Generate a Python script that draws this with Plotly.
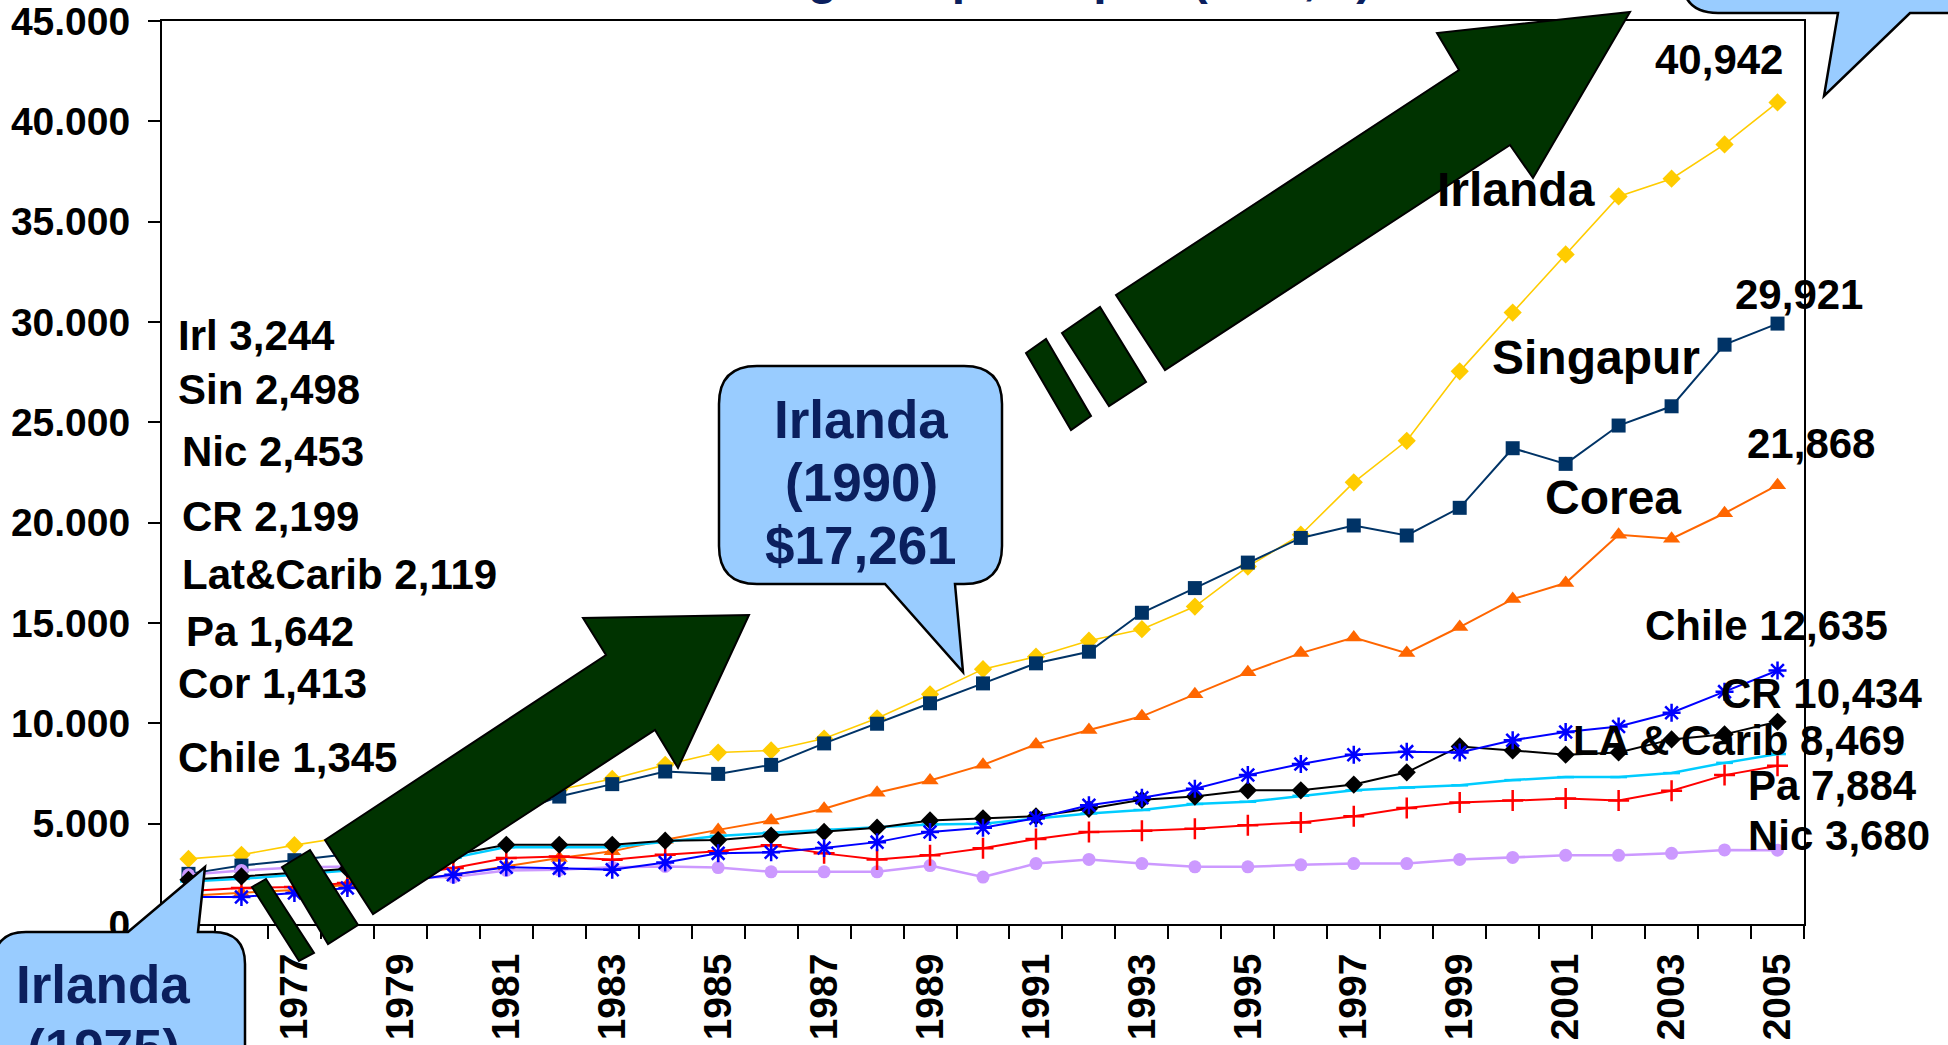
import plotly.graph_objects as go

# ---------------- data ----------------
years = list(range(1975, 2006))

irlanda = [3244, 3450, 3930, 4350, 4850, 5500, 6150, 6700, 7230, 7930,
           8545, 8650, 9240, 10250, 11450, 12700, 13320, 14120, 14690, 15820,
           17810, 19400, 22010, 24080, 27540, 30470, 33370, 36260, 37140, 38850, 40942]
singapur = [2498, 2910, 3180, 3480, 3950, 4700, 5400, 6350, 6970, 7600,
            7480, 7930, 9000, 9980, 11000, 11990, 12990, 13570, 15510, 16740,
            18010, 19240, 19860, 19360, 20740, 23710, 22930, 24840, 25800, 28870, 29921]
corea = [1413, 1540, 1700, 1950, 2150, 2460, 2870, 3290, 3620, 4200,
         4690, 5160, 5740, 6540, 7150, 7930, 8950, 9670, 10350, 11450,
         12540, 13500, 14280, 13500, 14800, 16190, 16990, 19400, 19200, 20470, 21868]
chile = [1345, 1350, 1540, 1790, 2100, 2460, 2830, 2780, 2700, 3070,
         3520, 3570, 3790, 4080, 4590, 4800, 5270, 5920, 6290, 6740,
         7420, 7970, 8440, 8590, 8550, 9160, 9570, 9840, 10530, 11580, 12635]
costa_rica = [2199, 2370, 2550, 2750, 3050, 3450, 3950, 3950, 3950, 4150,
              4180, 4410, 4590, 4800, 5160, 5270, 5370, 5740, 6190, 6350,
              6660, 6660, 6950, 7560, 8850, 8650, 8440, 8550, 9200, 9450, 10080]
la_carib = [2119, 2250, 2450, 2660, 2950, 3300, 3830, 3830, 3830, 4100,
            4390, 4550, 4690, 4800, 4960, 5000, 5270, 5510, 5680, 5980,
            6090, 6390, 6660, 6800, 6910, 7170, 7320, 7320, 7520, 8030, 8469]
panama = [1642, 1790, 1850, 2040, 2400, 2790, 3290, 3370, 3200, 3450,
          3630, 3930, 3520, 3220, 3420, 3770, 4240, 4590, 4650, 4750,
          4920, 5060, 5370, 5780, 6050, 6150, 6250, 6150, 6640, 7420, 7884]
nicaragua = [2453, 2670, 2810, 2870, 2300, 2340, 2670, 2700, 2830, 2870,
             2810, 2600, 2600, 2600, 2910, 2340, 3010, 3220, 3010, 2850,
             2850, 2950, 3010, 3010, 3220, 3320, 3420, 3420, 3520, 3690, 3680]

y_ticks = [0, 5000, 10000, 15000, 20000, 25000, 30000, 35000, 40000, 45000]
x_label_years = list(range(1977, 2006, 2))   # 1975 label is hidden by the callout

start_labels = ["Irl 3,244", "Sin 2,498", "Nic 2,453", "CR 2,199",
                "Lat&Carib 2,119", "Pa 1,642", "Cor 1,413", "Chile 1,345"]
end_labels = ["40,942", "29,921", "21,868", "Irlanda", "Singapur", "Corea",
              "Chile 12,635", "CR 10,434", "LA & Carib 8,469", "Pa 7,884", "Nic 3,680"]
title_text = "Ingreso per cápita (PPA, $)"

# ---------------- layout geometry (pixels) ----------------
W, H = 1948, 1045
L, R, T, B = 162, 1804, 21, 924


def px(x):
    return (x - L) / (R - L)


def py(y):
    return (B - y) / (B - T)


def P(x, y):
    return f"{px(x):.5f},{py(y):.5f}"


def path(points):
    return "M " + " L ".join(P(x, y) for x, y in points) + " Z"


def callout_bottom_tail(x0, y0, x1, y1, r, tail):
    (ax, ay), (tx, ty), (bx, by) = tail
    s = f"M {P(x0 + r, y0)} L {P(x1 - r, y0)} Q {P(x1, y0)} {P(x1, y0 + r)}"
    s += f" L {P(x1, y1 - r)} Q {P(x1, y1)} {P(x1 - r, y1)}"
    s += f" L {P(bx, by)} L {P(tx, ty)} L {P(ax, ay)}"
    s += f" L {P(x0 + r, y1)} Q {P(x0, y1)} {P(x0, y1 - r)}"
    s += f" L {P(x0, y0 + r)} Q {P(x0, y0)} {P(x0 + r, y0)} Z"
    return s


def callout_top_tail(x0, y0, x1, y1, r, tail):
    (ax, ay), (tx, ty), (bx, by) = tail
    s = f"M {P(x0 + r, y0)} L {P(ax, ay)} L {P(tx, ty)} L {P(bx, by)}"
    s += f" L {P(x1 - r, y0)} Q {P(x1, y0)} {P(x1, y0 + r)}"
    s += f" L {P(x1, y1 - r)} Q {P(x1, y1)} {P(x1 - r, y1)}"
    s += f" L {P(x0 + r, y1)} Q {P(x0, y1)} {P(x0, y1 - r)}"
    s += f" L {P(x0, y0 + r)} Q {P(x0, y0)} {P(x0 + r, y0)} Z"
    return s


fig = go.Figure()

series = [
    ("Irlanda", irlanda, "#FFCC00", "diamond", 14, 1.6),
    ("Singapur", singapur, "#003366", "square", 14, 2),
    ("Corea", corea, "#FF6600", "triangle-up", 15, 2),
    ("Nicaragua", nicaragua, "#CC99FF", "circle", 13, 2.5),
    ("Panamá", panama, "#FF0000", "cross-thin-open", 15, 2),
    ("LA & Carib", la_carib, "#00CCFF", "line-ew-open", 12, 2.5),
    ("Costa Rica", costa_rica, "#000000", "diamond", 14, 2),
    ("Chile", chile, "#0000FF", "asterisk-open", 15, 2),
]
for name, vals, col, sym, ms, lw in series:
    fig.add_trace(go.Scatter(
        x=years, y=vals, name=name, mode="lines+markers",
        line=dict(color=col, width=lw),
        marker=dict(symbol=sym, size=ms, color=col,
                    line=dict(color=col, width=2.5 if "open" in sym else 0)),
        showlegend=False))

shapes = []
green = dict(type="path", xref="paper", yref="paper", fillcolor="#003300",
             line=dict(color="#000000", width=2), layer="above")
# lower arrow
shapes.append(dict(green, path=path([(325, 840), (606, 655), (583, 618), (749, 615),
                                     (678, 768), (655, 730), (373, 914)])))
shapes.append(dict(green, path=path([(282, 867), (310, 850), (358, 925), (328, 944)])))
shapes.append(dict(green, path=path([(252, 887), (266, 879), (314, 953), (299, 961)])))
# upper arrow
shapes.append(dict(green, path=path([(1116, 295), (1459, 70), (1437, 33), (1630, 12),
                                     (1533, 178), (1510, 145), (1165, 370)])))
shapes.append(dict(green, path=path([(1062, 333), (1100, 307), (1146, 382), (1109, 406)])))
shapes.append(dict(green, path=path([(1026, 353), (1046, 339), (1091, 416), (1071, 430)])))

blue = dict(type="path", xref="paper", yref="paper", fillcolor="#99CCFF",
            line=dict(color="#000000", width=2.5), layer="above")
shapes.append(dict(blue, path=callout_bottom_tail(719, 366, 1002, 584, 38,
                                                  [(885, 584), (963, 672), (955, 584)])))
shapes.append(dict(blue, path=callout_top_tail(-6, 932, 245, 1140, 32,
                                               [(128, 932), (205, 867), (198, 932)])))
shapes.append(dict(blue, path=callout_bottom_tail(1682, -200, 1985, 13, 36,
                                                  [(1838, 13), (1824, 96), (1910, 13)])))

annotations = []
lab_font = dict(family="Liberation Sans, Arial", size=42, color="#000000", weight="bold")
start_pos = [(176, 335), (176, 389), (180, 451), (180, 516), (180, 574),
             (184, 631), (176, 683), (176, 757)]
for txt, (x, y) in zip(start_labels, start_pos):
    annotations.append(dict(text=txt, x=px(x), y=py(y), xref="paper", yref="paper",
                            xanchor="left", yanchor="middle", showarrow=False,
                            font=lab_font))
end_pos = [(1719, 60), (1799, 294), (1811, 443), (1516, 189), (1596, 358), (1613, 497),
           (1766, 625), (1821, 693), (1739, 740), (1832, 785), (1839, 835)]
for txt, (x, y) in zip(end_labels, end_pos):
    f = dict(lab_font)
    if txt in ("Irlanda", "Singapur", "Corea"):
        f["size"] = 48
    annotations.append(dict(text=txt, x=px(x), y=py(y), xref="paper", yref="paper",
                            xanchor="center", yanchor="middle", showarrow=False, font=f))

navy_font = dict(family="Liberation Sans, Arial", size=53, color="#0B1F5E", weight="bold")
for txt, y in [("Irlanda", 419), ("(1990)", 482), ("$17,261", 546)]:
    annotations.append(dict(text=txt, x=px(861), y=py(y), xref="paper", yref="paper",
                            xanchor="center", yanchor="middle", showarrow=False, font=navy_font))
for txt, y in [("Irlanda", 984), ("(1975)", 1048)]:
    annotations.append(dict(text=txt, x=px(103), y=py(y), xref="paper", yref="paper",
                            xanchor="center", yanchor="middle", showarrow=False, font=navy_font))
annotations.append(dict(text=title_text, x=px(1068), y=py(-22), xref="paper", yref="paper",
                        xanchor="center", yanchor="middle", showarrow=False,
                        font=dict(family="Liberation Sans, Arial", size=48, color="#0B1F5E",
                                  weight="bold")))

tick_font = dict(family="Liberation Sans, Arial", size=39, color="#000000", weight="bold")

fig.update_layout(
    width=W, height=H,
    margin=dict(l=L, r=W - R, t=T, b=H - B, pad=0, autoexpand=False),
    paper_bgcolor="white", plot_bgcolor="white",
    separators=",.",
    shapes=shapes, annotations=annotations,
    xaxis=dict(range=[1974.5, 2005.5], tickmode="array", tickvals=x_label_years,
               ticktext=[str(v) for v in x_label_years], tickangle=-90,
               ticks="", showgrid=False, zeroline=False, automargin=False,
               showline=True, linecolor="black", linewidth=2, mirror=True,
               tickfont=tick_font, ticklabelstandoff=12, ticklabeloverflow="allow",
               minor=dict(tickvals=[y + 0.5 for y in range(1974, 2006)], ticks="outside",
                          ticklen=13, tickwidth=2, tickcolor="black", showgrid=False)),
    yaxis=dict(range=[0, 45000], tickmode="array", tickvals=y_ticks, tickformat=",d",
               ticks="outside", ticklen=12, tickwidth=2, tickcolor="black",
               showgrid=False, zeroline=False, automargin=False,
               showline=True, linecolor="black", linewidth=2, mirror=True,
               tickfont=tick_font, ticklabelstandoff=10, ticklabeloverflow="allow"),
)

fig.write_html("out.html", config={"displayModeBar": False},
               post_script="document.body.style.margin='0';")
